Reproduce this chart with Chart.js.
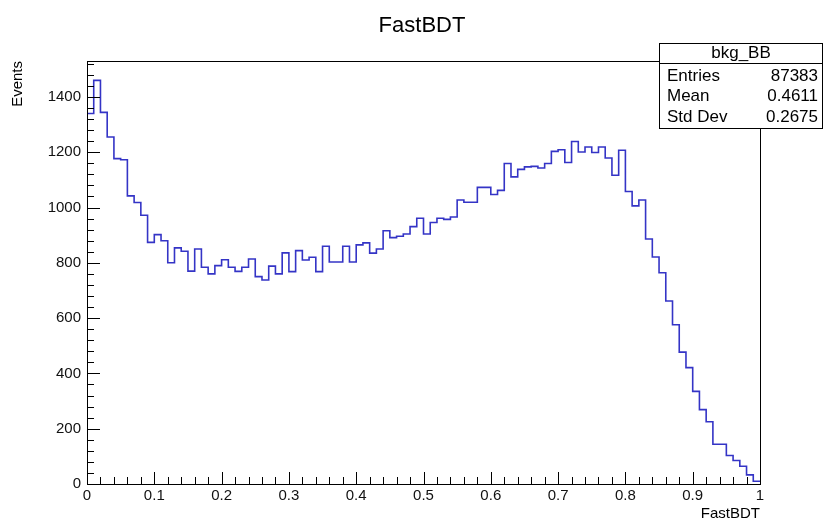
<!DOCTYPE html>
<html>
<head>
<meta charset="utf-8">
<script src="https://cdn.jsdelivr.net/npm/chart.js@4.4.1/dist/chart.umd.min.js"></script>
<style>
  body { margin: 0; background: #fff; }
  canvas { display: block; }
</style>
</head>
<body>
<canvas id="histo" width="824" height="523"></canvas>
<script>
// histogram bkg_BB, 100 bins between 0 and 1
const xMin = 0
const xMax = 1
const counts = [
  1340, 1460, 1344, 1255, 1177, 1173, 1042, 1018, 972, 874,
  902, 880, 800, 854, 842, 770, 850, 784, 760, 790,
  811, 784, 769, 784, 814, 750, 738, 788, 760, 836,
  768, 844, 810, 820, 768, 860, 803, 803, 860, 803,
  865, 872, 835, 850, 916, 891, 896, 904, 931, 961,
  904, 946, 961, 957, 966, 1027, 1019, 1019, 1073, 1073,
  1047, 1062, 1159, 1111, 1138, 1147, 1149, 1143, 1159, 1203,
  1209, 1163, 1239, 1201, 1219, 1199, 1219, 1179, 1117, 1207,
  1058, 1006, 1027, 886, 821, 764, 662, 576, 477, 421,
  335, 269, 225, 144, 144, 103, 85, 64, 33, 10
]
const xTicks = ["0", "0.1", "0.2", "0.3", "0.4", "0.5", "0.6", "0.7", "0.8", "0.9", "1"]
const yTicks = [0, 200, 400, 600, 800, 1000, 1200, 1400]
const yMax = 1530

const statNames = ["Entries", "Mean", "Std Dev"]
const statValues = ["87383", "0.4611", "0.2675"]
const histName = "bkg_BB"

const FONT = "'Liberation Sans', Arial, Helvetica, sans-serif"

// step points on the bin low edges, plus the last upper edge
const binWidth = (xMax - xMin) / counts.length
const points = counts.map((c, i) => ({ x: xMin + i * binWidth, y: c }))
points.push({ x: xMax, y: counts[counts.length - 1] })

const rootFrame = {
  id: "rootFrame",
  afterDraw(chart) {
    const ctx = chart.ctx
    const area = chart.chartArea
    const xs = chart.scales.x
    const ys = chart.scales.y
    ctx.save()

    // frame
    ctx.strokeStyle = "#000"
    ctx.lineWidth = 1
    ctx.strokeRect(Math.round(area.left) + 0.5, Math.round(area.top) + 0.5,
      Math.round(area.right - area.left), Math.round(area.bottom - area.top))

    // inward ticks, bottom axis
    ctx.beginPath()
    for (let i = 0; i <= 50; i++) {
      const px = Math.round(xs.getPixelForValue(i * 0.02)) + 0.5
      const len = (i % 5 === 0) ? 12 : 7
      ctx.moveTo(px, area.bottom)
      ctx.lineTo(px, area.bottom - len)
    }
    // inward ticks, left axis
    for (let v = 0; v <= yMax; v += 40) {
      const py = Math.round(ys.getPixelForValue(v)) + 0.5
      const len = (v % 200 === 0) ? 13 : 7
      ctx.moveTo(area.left, py)
      ctx.lineTo(area.left + len, py)
    }
    ctx.stroke()

    // title
    ctx.fillStyle = "#000"
    ctx.font = "22px " + FONT
    ctx.textAlign = "center"
    ctx.textBaseline = "middle"
    ctx.fillText("FastBDT", 422, 26)

    // axis titles
    ctx.font = "15px " + FONT
    ctx.textAlign = "right"
    ctx.fillText("FastBDT", area.right, 514)

    ctx.save()
    ctx.translate(18, area.top)
    ctx.rotate(-Math.PI / 2)
    ctx.textAlign = "right"
    ctx.fillText("Events", 0, 0)
    ctx.restore()

    // stats box
    const bx = 659.5, by = 43.5, bw = 163, bh = 85
    ctx.fillStyle = "#fff"
    ctx.fillRect(bx, by, bw, bh)
    ctx.strokeRect(bx, by, bw, bh)
    ctx.beginPath()
    ctx.moveTo(bx, 63.5)
    ctx.lineTo(bx + bw, 63.5)
    ctx.stroke()

    ctx.fillStyle = "#000"
    ctx.font = "17px " + FONT
    ctx.textAlign = "center"
    ctx.fillText(histName, bx + bw / 2, 53.5)
    statNames.forEach((name, i) => {
      const ty = 76 + i * 20.5
      ctx.textAlign = "left"
      ctx.fillText(name, 667, ty)
      ctx.textAlign = "right"
      ctx.fillText(statValues[i], 818, ty)
    })

    ctx.restore()
  }
}

const chart = new Chart(document.getElementById("histo"), {
  type: "line",
  data: {
    datasets: [{
      label: histName,
      data: points,
      stepped: "before",
      borderColor: "#3434c6",
      borderWidth: 1.6,
      pointRadius: 0,
      fill: false
    }]
  },
  options: {
    responsive: false,
    devicePixelRatio: 1,
    animation: false,
    layout: { padding: { top: 61, right: 64, left: 0, bottom: 0 } },
    plugins: {
      legend: { display: false },
      title: { display: false },
      tooltip: { enabled: false }
    },
    scales: {
      x: {
        type: "linear",
        min: xMin,
        max: xMax,
        grid: { display: false, drawTicks: false },
        border: { display: false },
        afterBuildTicks: (scale) => {
          scale.ticks = xTicks.map(t => ({ value: parseFloat(t) }))
        },
        afterFit: (scale) => { scale.height = 39 },
        ticks: {
          padding: 3,
          maxRotation: 0,
          autoSkip: false,
          color: "#111",
          font: { family: FONT, size: 15 },
          callback: (v, i) => xTicks[i]
        }
      },
      y: {
        min: 0,
        max: yMax,
        grid: { display: false, drawTicks: false },
        border: { display: false },
        afterBuildTicks: (scale) => {
          scale.ticks = yTicks.map(v => ({ value: v }))
        },
        afterFit: (scale) => { scale.width = 87 },
        ticks: {
          padding: 6,
          color: "#111",
          font: { family: FONT, size: 15 },
          callback: (v) => String(v)
        }
      }
    }
  },
  plugins: [rootFrame]
})
</script>
</body>
</html>
